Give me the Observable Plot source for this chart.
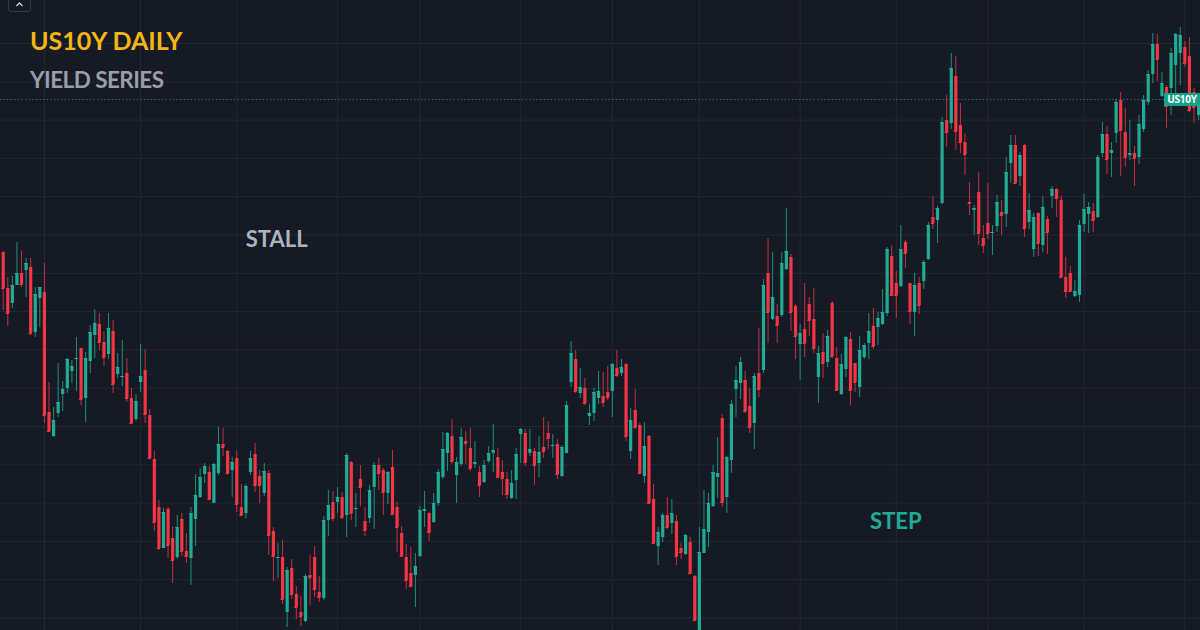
<!DOCTYPE html>
<html>
<head>
<meta charset="utf-8">
<script src="https://cdn.jsdelivr.net/npm/d3@7"></script>
<script src="https://cdn.jsdelivr.net/npm/@observablehq/plot@0.6"></script>
<style>
  html, body { margin: 0; padding: 0; background: #161a25; overflow: hidden; }
  #wrap { position: relative; width: 1200px; height: 630px; background: #161a25; }
  #wrap svg { position: absolute; left: 0; top: 0; }
  .title { position: absolute; left: 30px; top: 28px; font: 700 25px/25px Lato, "Open Sans", sans-serif; color: #f2b619; white-space: nowrap; }
  .subtitle { position: absolute; left: 30px; top: 68.5px; font: 700 22.5px/22.5px Lato, "Open Sans", sans-serif; color: #9a9ea8; white-space: nowrap; letter-spacing: -0.55px; }
  .btn { position: absolute; left: 8px; top: -2px; width: 23px; height: 14px; border: 1px solid #363a46; border-radius: 3px; background: #161a25; box-sizing: border-box; }
  .price-tag { position: absolute; right: 0; width: 36px; height: 13px; background: #16a08a; color: #fff; font: 700 10px/13px "Open Sans", sans-serif; text-align: center; letter-spacing: -0.2px; }
</style>
</head>
<body>
<div id="wrap"></div>
<script>
// Daily US10Y yield candles (%), one entry per trading session
const open = [4.748,4.712,4.697,4.715,4.727,4.730,4.733,4.668,4.702,4.708,4.588,4.564,4.587,4.606,4.612,4.629,4.641,4.652,4.602,4.639,4.665,4.676,4.658,4.646,4.669,4.626,4.623,4.627,4.602,4.581,4.618,4.630,4.585,4.541,4.493,4.452,4.491,4.462,4.443,4.481,4.449,4.442,4.481,4.503,4.526,4.528,4.497,4.527,4.556,4.549,4.530,4.542,4.493,4.487,4.528,4.546,4.524,4.507,4.527,4.469,4.442,4.443,4.388,4.432,4.406,4.388,4.379,4.425,4.443,4.408,4.402,4.480,4.498,4.498,4.503,4.485,4.538,4.491,4.521,4.479,4.482,4.513,4.535,4.530,4.507,4.533,4.493,4.467,4.443,4.427,4.425,4.444,4.489,4.487,4.478,4.497,4.523,4.547,4.564,4.525,4.536,4.559,4.552,4.536,4.528,4.518,4.539,4.547,4.543,4.528,4.521,4.502,4.520,4.566,4.567,4.547,4.549,4.537,4.553,4.567,4.554,4.556,4.524,4.547,4.618,4.641,4.607,4.612,4.584,4.587,4.602,4.604,4.608,4.609,4.632,4.627,4.636,4.549,4.590,4.575,4.524,4.564,4.501,4.454,4.463,4.485,4.477,4.479,4.452,4.446,4.458,4.424,4.366,4.447,4.468,4.494,4.523,4.582,4.503,4.540,4.611,4.617,4.620,4.594,4.577,4.627,4.630,4.727,4.681,4.684,4.685,4.731,4.743,4.694,4.656,4.671,4.696,4.681,4.623,4.648,4.638,4.697,4.642,4.606,4.631,4.661,4.637,4.613,4.643,4.657,4.674,4.673,4.676,4.687,4.744,4.717,4.714,4.758,4.717,4.688,4.717,4.719,4.741,4.783,4.780,4.797,4.880,4.877,4.924,4.875,4.858,4.798,4.790,4.808,4.762,4.777,4.767,4.774,4.788,4.786,4.837,4.855,4.824,4.855,4.778,4.751,4.787,4.755,4.781,4.804,4.811,4.800,4.723,4.727,4.704,4.705,4.776,4.786,4.789,4.783,4.847,4.866,4.847,4.867,4.900,4.868,4.845,4.847,4.843,4.871,4.898,4.926,4.956,4.904,4.913,4.912,4.935,4.947,4.953,4.944,4.908,4.885];
const high = [4.749,4.723,4.724,4.758,4.749,4.742,4.742,4.713,4.713,4.737,4.618,4.593,4.637,4.619,4.642,4.640,4.663,4.652,4.648,4.675,4.691,4.687,4.669,4.687,4.680,4.647,4.660,4.642,4.612,4.606,4.656,4.651,4.591,4.549,4.500,4.492,4.493,4.474,4.485,4.487,4.467,4.493,4.526,4.532,4.537,4.534,4.537,4.573,4.572,4.550,4.543,4.549,4.516,4.516,4.549,4.557,4.530,4.537,4.530,4.473,4.457,4.460,4.433,4.441,4.414,4.404,4.426,4.445,4.454,4.424,4.484,4.510,4.509,4.513,4.508,4.547,4.539,4.507,4.535,4.493,4.515,4.538,4.542,4.532,4.529,4.550,4.498,4.474,4.456,4.453,4.447,4.494,4.509,4.488,4.507,4.531,4.568,4.568,4.581,4.543,4.572,4.569,4.572,4.559,4.534,4.540,4.554,4.576,4.552,4.540,4.528,4.530,4.552,4.572,4.571,4.571,4.552,4.564,4.583,4.579,4.566,4.561,4.555,4.599,4.659,4.650,4.632,4.622,4.596,4.612,4.629,4.628,4.634,4.637,4.650,4.641,4.637,4.592,4.611,4.577,4.578,4.565,4.516,4.473,4.487,4.503,4.501,4.485,4.457,4.466,4.463,4.425,4.473,4.510,4.507,4.535,4.563,4.586,4.544,4.600,4.634,4.643,4.629,4.612,4.627,4.672,4.721,4.762,4.748,4.696,4.748,4.792,4.746,4.696,4.676,4.717,4.703,4.712,4.654,4.667,4.670,4.699,4.653,4.646,4.664,4.668,4.637,4.664,4.657,4.687,4.692,4.688,4.711,4.753,4.755,4.729,4.775,4.760,4.717,4.727,4.723,4.740,4.778,4.804,4.794,4.883,4.905,4.947,4.944,4.897,4.867,4.818,4.795,4.828,4.775,4.817,4.775,4.805,4.800,4.843,4.865,4.865,4.848,4.856,4.807,4.787,4.788,4.804,4.784,4.814,4.812,4.804,4.743,4.734,4.720,4.780,4.806,4.798,4.797,4.845,4.878,4.874,4.858,4.901,4.908,4.892,4.880,4.854,4.885,4.905,4.930,4.967,4.966,4.928,4.915,4.952,4.967,4.973,4.959,4.963,4.912,4.903];
const low = [4.690,4.674,4.692,4.715,4.713,4.703,4.665,4.663,4.673,4.577,4.568,4.563,4.583,4.589,4.607,4.617,4.609,4.595,4.578,4.627,4.642,4.650,4.634,4.641,4.607,4.622,4.614,4.598,4.576,4.579,4.608,4.577,4.541,4.469,4.450,4.452,4.442,4.417,4.441,4.444,4.437,4.415,4.454,4.502,4.517,4.500,4.497,4.525,4.544,4.525,4.503,4.488,4.484,4.482,4.525,4.508,4.497,4.504,4.445,4.419,4.422,4.396,4.373,4.401,4.381,4.374,4.378,4.395,4.403,4.398,4.400,4.464,4.479,4.487,4.481,4.463,4.480,4.473,4.494,4.464,4.477,4.471,4.510,4.485,4.496,4.485,4.448,4.443,4.411,4.413,4.393,4.443,4.473,4.459,4.477,4.494,4.521,4.529,4.536,4.497,4.534,4.536,4.529,4.532,4.503,4.517,4.537,4.528,4.522,4.505,4.501,4.501,4.501,4.537,4.534,4.544,4.515,4.523,4.542,4.551,4.542,4.521,4.523,4.547,4.613,4.607,4.602,4.595,4.575,4.579,4.596,4.593,4.600,4.583,4.623,4.624,4.559,4.541,4.571,4.526,4.517,4.496,4.456,4.435,4.458,4.471,4.466,4.435,4.441,4.445,4.426,4.379,4.360,4.447,4.453,4.493,4.502,4.493,4.487,4.527,4.583,4.601,4.587,4.567,4.551,4.603,4.627,4.657,4.680,4.657,4.683,4.730,4.669,4.641,4.620,4.643,4.664,4.647,4.597,4.622,4.633,4.642,4.609,4.605,4.623,4.595,4.608,4.603,4.641,4.641,4.651,4.655,4.675,4.684,4.704,4.682,4.713,4.732,4.676,4.664,4.686,4.711,4.740,4.771,4.757,4.796,4.853,4.871,4.850,4.847,4.825,4.785,4.765,4.755,4.747,4.761,4.745,4.768,4.765,4.773,4.817,4.816,4.814,4.763,4.771,4.743,4.744,4.748,4.746,4.792,4.783,4.723,4.702,4.708,4.703,4.698,4.768,4.767,4.768,4.782,4.843,4.826,4.823,4.857,4.824,4.833,4.840,4.814,4.836,4.868,4.895,4.917,4.919,4.903,4.872,4.885,4.900,4.915,4.933,4.888,4.877,4.880];
const close = [4.712,4.687,4.715,4.727,4.716,4.737,4.667,4.706,4.713,4.585,4.569,4.580,4.598,4.611,4.641,4.634,4.642,4.601,4.642,4.668,4.677,4.658,4.643,4.672,4.616,4.633,4.624,4.602,4.577,4.599,4.624,4.586,4.542,4.478,4.452,4.488,4.455,4.440,4.473,4.449,4.444,4.487,4.505,4.523,4.534,4.501,4.536,4.556,4.553,4.527,4.538,4.496,4.485,4.514,4.542,4.515,4.515,4.529,4.465,4.444,4.443,4.401,4.430,4.406,4.393,4.384,4.424,4.423,4.411,4.403,4.480,4.495,4.482,4.503,4.483,4.545,4.487,4.492,4.513,4.470,4.510,4.535,4.527,4.508,4.528,4.486,4.473,4.444,4.420,4.414,4.434,4.490,4.491,4.468,4.497,4.528,4.551,4.567,4.539,4.538,4.563,4.557,4.532,4.538,4.515,4.535,4.547,4.550,4.523,4.522,4.506,4.517,4.546,4.571,4.538,4.551,4.535,4.548,4.549,4.562,4.555,4.526,4.553,4.595,4.647,4.609,4.613,4.597,4.587,4.608,4.609,4.598,4.603,4.636,4.625,4.633,4.564,4.580,4.573,4.527,4.554,4.497,4.457,4.468,4.485,4.473,4.487,4.444,4.448,4.465,4.427,4.380,4.448,4.471,4.497,4.528,4.527,4.498,4.543,4.596,4.620,4.638,4.589,4.573,4.624,4.611,4.715,4.688,4.703,4.675,4.737,4.749,4.688,4.664,4.667,4.657,4.680,4.652,4.647,4.637,4.664,4.644,4.610,4.636,4.663,4.610,4.618,4.650,4.655,4.669,4.654,4.682,4.688,4.751,4.705,4.705,4.751,4.747,4.689,4.715,4.695,4.738,4.775,4.777,4.792,4.878,4.868,4.932,4.869,4.858,4.846,4.797,4.792,4.767,4.755,4.767,4.768,4.798,4.785,4.828,4.855,4.817,4.845,4.772,4.790,4.783,4.757,4.793,4.768,4.811,4.802,4.723,4.709,4.709,4.709,4.775,4.791,4.793,4.780,4.843,4.866,4.841,4.850,4.898,4.870,4.843,4.847,4.842,4.876,4.900,4.926,4.956,4.941,4.917,4.894,4.947,4.966,4.965,4.937,4.890,4.893,4.901];

// Session index of each month start (vertical gridlines)
const monthStarts = [9, 30, 51, 73, 91, 113, 133, 152, 174, 195, 215, 236, 258];
// Horizontal gridline yields
const gridYields = [4.957, 4.9187, 4.8804, 4.8421, 4.8038, 4.7655, 4.7272, 4.6889, 4.6506, 4.6123, 4.574, 4.5357, 4.4974, 4.4591, 4.4208, 4.3825];
// Annotations
const noteLabels = ["STALL", "STEP"];
const noteDays = [59.7, 194.9];
const noteYields = [4.761, 4.479];
const noteColors = ["#aeb2bd", "#22ab94"];

const UP = "#22ab94", DOWN = "#f23645";
const candles = open.map((o, i) => ({ i, open: o, high: high[i], low: low[i], close: close[i] }));
const ups = candles.filter(d => d.close >= d.open);
const downs = candles.filter(d => d.close < d.open);
const notes = noteLabels.map((label, k) => ({ label, day: noteDays[k], yield: noteYields[k], color: noteColors[k] }));
const last = close[close.length - 1];

const chart = Plot.plot({
  width: 1200,
  height: 630,
  margin: 0,
  style: { background: "transparent", overflow: "hidden" },
  x: { domain: [-0.59, 261.42], axis: null },
  y: { domain: [4.37, 5.0], axis: null },
  marks: [
    Plot.ruleY(gridYields, { stroke: "#242835", strokeWidth: 1 }),
    Plot.ruleX(monthStarts, { stroke: "#242835", strokeWidth: 1 }),
    Plot.ruleY([last], { stroke: UP, strokeDasharray: "1.2,2.4", strokeOpacity: 0.75 }),
    // wicks
    Plot.ruleX(ups, { x: "i", y1: "low", y2: "high", stroke: UP, strokeWidth: 1, strokeOpacity: 0.8 }),
    Plot.ruleX(downs, { x: "i", y1: "low", y2: "high", stroke: DOWN, strokeWidth: 1, strokeOpacity: 0.8 }),
    // bodies
    Plot.ruleX(ups, { x: "i", y1: "open", y2: "close", stroke: UP, strokeWidth: 3.2 }),
    Plot.ruleX(downs, { x: "i", y1: "open", y2: "close", stroke: DOWN, strokeWidth: 3.2 }),
    // minimum 1px body for near-doji sessions
    Plot.ruleY(ups, { y: "close", x1: d => d.i - 0.35, x2: d => d.i + 0.35, stroke: UP, strokeWidth: 1 }),
    Plot.ruleY(downs, { y: "close", x1: d => d.i - 0.35, x2: d => d.i + 0.35, stroke: DOWN, strokeWidth: 1 }),
    Plot.text(notes, { x: "day", y: "yield", text: "label", fill: "color", fontSize: 22, fontWeight: 700, fontFamily: "Lato, 'Open Sans', sans-serif" })
  ]
});

const wrap = document.getElementById("wrap");
wrap.appendChild(chart);

const btn = document.createElement("div");
btn.className = "btn";
btn.innerHTML = '<svg width="21" height="12" style="position:absolute;left:0;top:0"><polyline points="7.5,7 10.5,4 13.5,7" fill="none" stroke="#c9ccd4" stroke-width="1.3"/></svg>';
wrap.appendChild(btn);

const t = document.createElement("div");
t.className = "title";
t.textContent = "US10Y DAILY";
wrap.appendChild(t);

const s = document.createElement("div");
s.className = "subtitle";
s.textContent = "YIELD SERIES";
wrap.appendChild(s);

const tag = document.createElement("div");
tag.className = "price-tag";
tag.textContent = "US10Y";
tag.style.top = (chart.scale("y").apply(last) - 6) + "px";
wrap.appendChild(tag);
</script>
</body>
</html>
